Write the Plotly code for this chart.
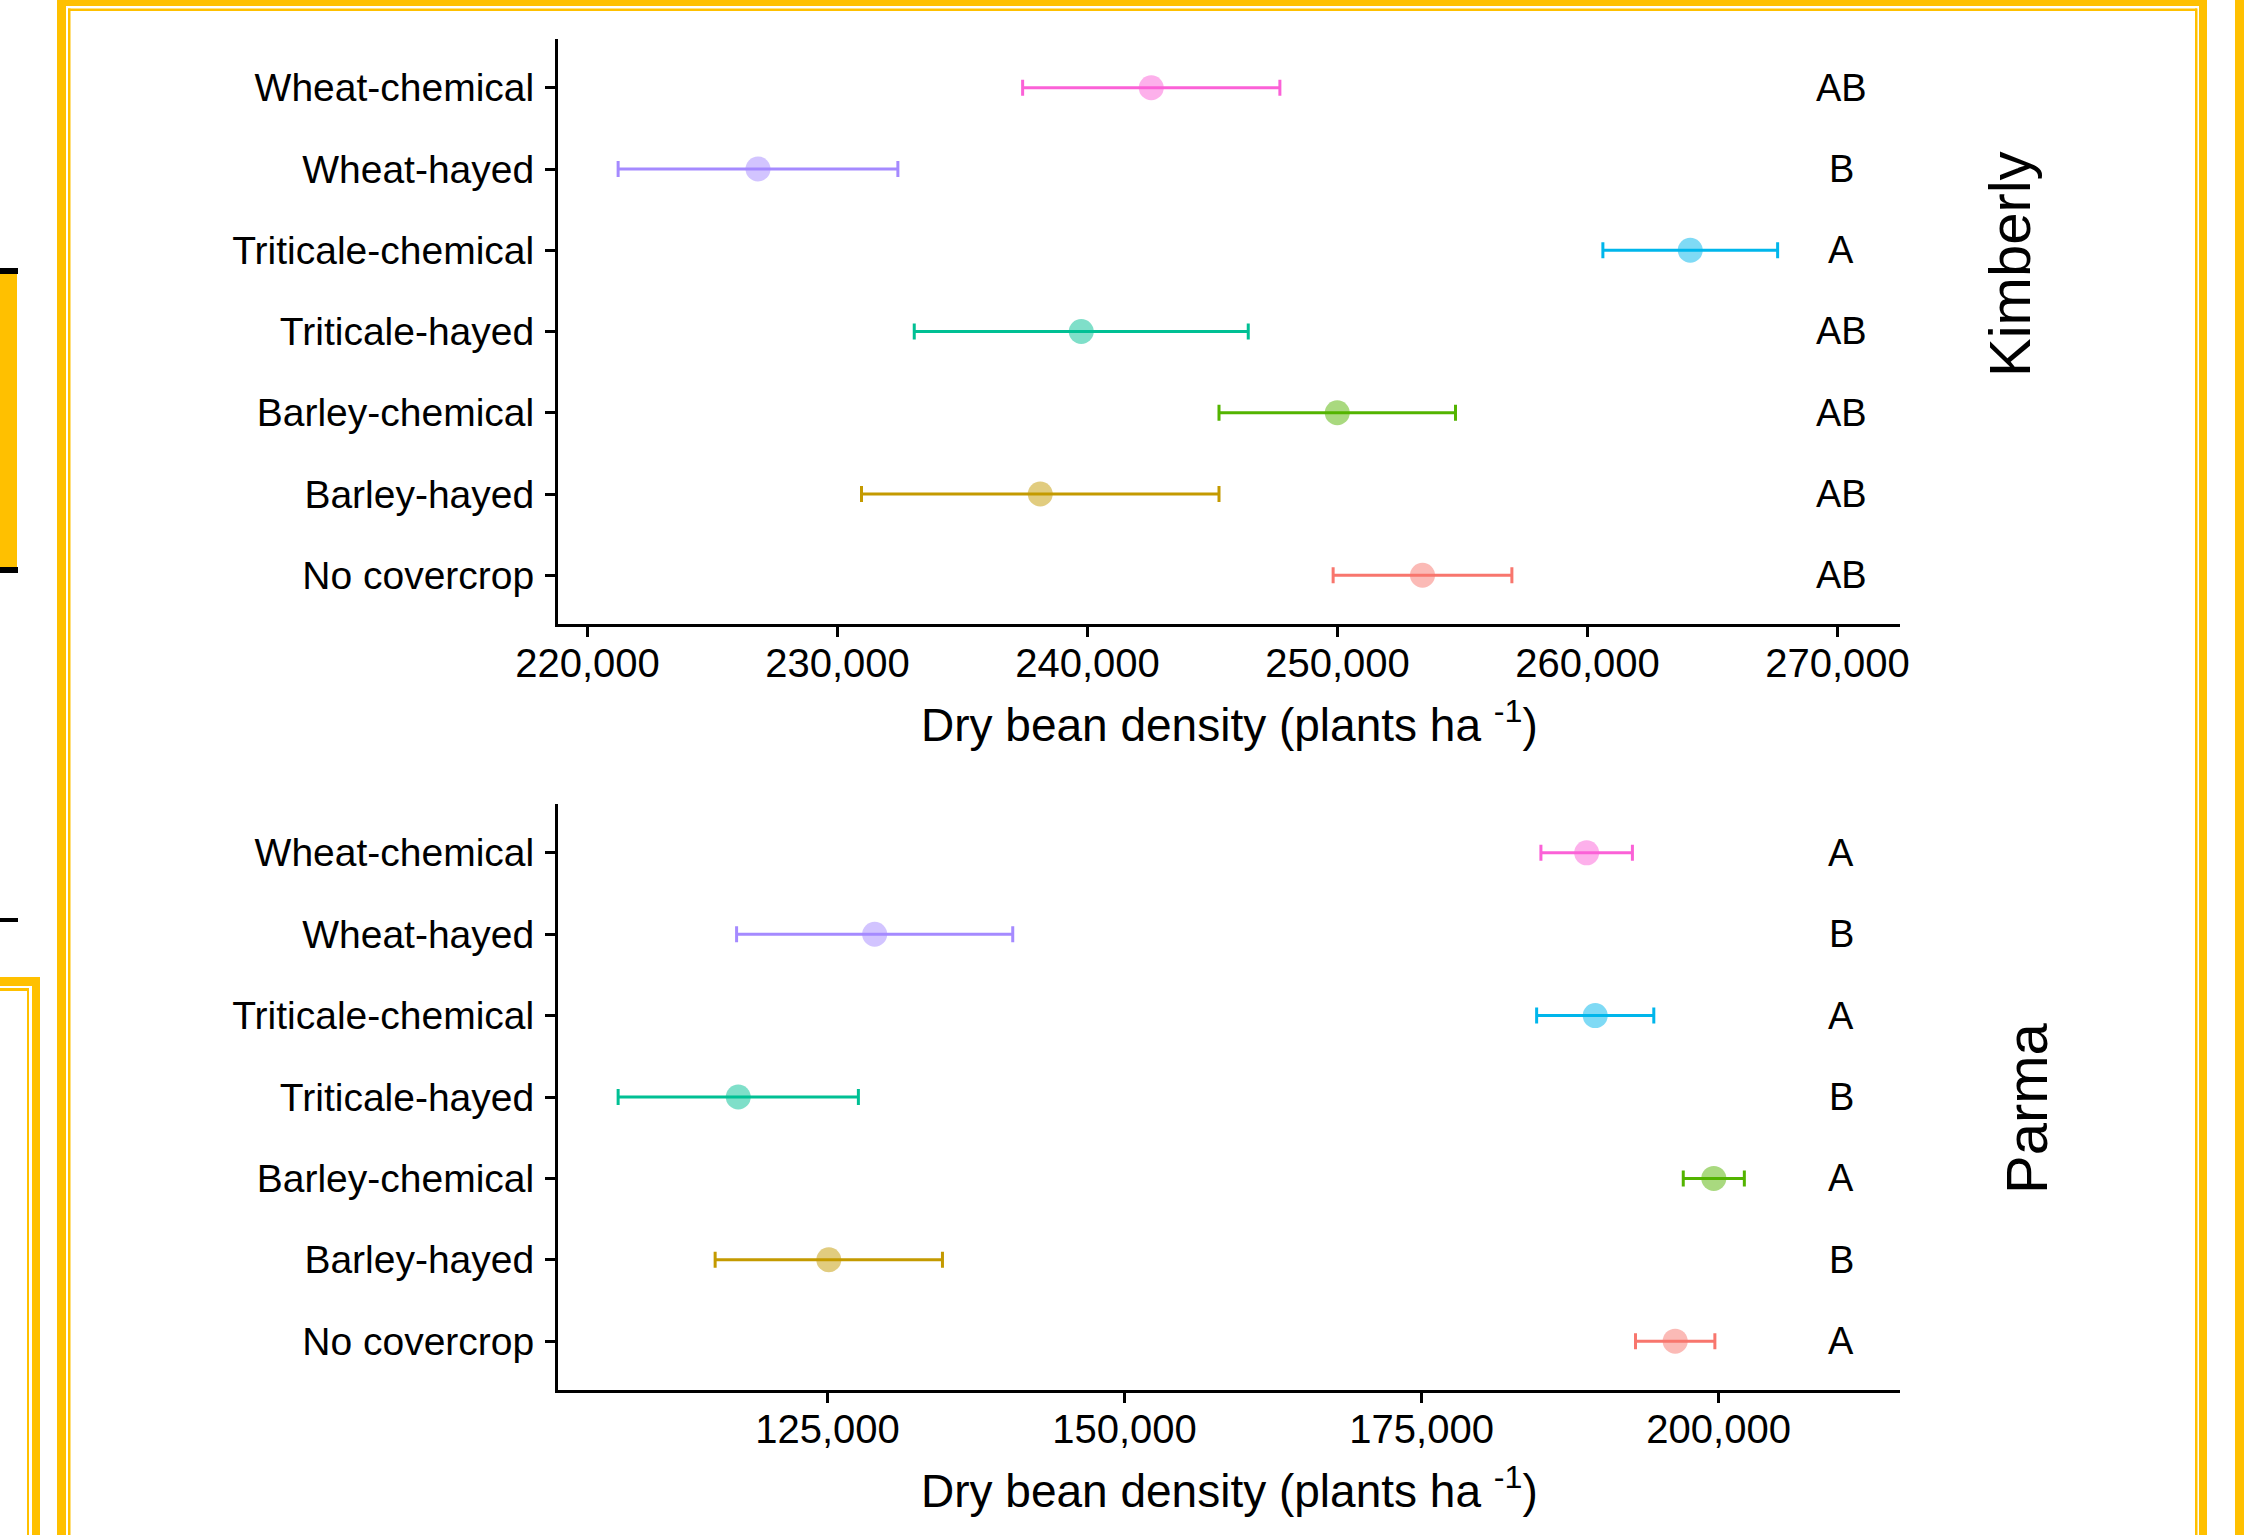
import plotly.graph_objects as go

# ---------------- data ----------------
categories = ["No covercrop", "Barley-hayed", "Barley-chemical", "Triticale-hayed",
              "Triticale-chemical", "Wheat-hayed", "Wheat-chemical"]
colors = ["#F8766D", "#C49A00", "#53B400", "#00C094", "#00B6EB", "#A58AFF", "#FB61D7"]

kim_mean = [253400, 238110, 249990, 239750, 264110, 226820, 242550]
kim_se = [3575, 7150, 4730, 6680, 3495, 5595, 5145]
kim_letters = ["AB", "AB", "AB", "AB", "A", "B", "AB"]

par_mean = [196340, 125110, 199590, 117490, 189610, 128970, 188890]
par_se = [3340, 9565, 2570, 10110, 4930, 11620, 3850]
par_letters = ["A", "B", "A", "B", "A", "B", "A"]

kim_ticks = [220000, 230000, 240000, 250000, 260000, 270000]
par_ticks = [125000, 150000, 175000, 200000]

panel_names = ["Kimberly", "Parma"]
x_title = "Dry bean density (plants ha <sup>-1</sup>)"

# ---------------- layout helpers ----------------
W, H = 2244, 1535
FONT = "Liberation Sans, Arial, Helvetica, sans-serif"
YELLOW = "#FFC000"


def px(x):
    return x / W


def py(y):
    return 1 - y / H


def hex_rgba(h, a):
    h = h.lstrip("#")
    return "rgba(%d,%d,%d,%.2f)" % (int(h[0:2], 16), int(h[2:4], 16), int(h[4:6], 16), a)


fig = go.Figure()
annotations = []

panels = [
    dict(mean=kim_mean, se=kim_se, letters=kim_letters, letter_x=270150, xa="x", ya="y"),
    dict(mean=par_mean, se=par_se, letters=par_letters, letter_x=210300, xa="x2", ya="y2"),
]

for p in panels:
    for i, cat in enumerate(categories):
        fig.add_trace(go.Scatter(
            x=[p["mean"][i]], y=[cat], mode="markers",
            marker=dict(size=25, color=hex_rgba(colors[i], 0.5), line=dict(width=0)),
            error_x=dict(type="data", array=[p["se"][i]], symmetric=True,
                         color=colors[i], thickness=3, width=8),
            xaxis=p["xa"], yaxis=p["ya"], showlegend=False, hoverinfo="skip",
        ))
        annotations.append(dict(
            text=p["letters"][i], x=p["letter_x"], y=cat, xref=p["xa"], yref=p["ya"],
            xanchor="center", yanchor="middle", showarrow=False,
            font=dict(family=FONT, size=38, color="black"),
        ))

xdom = [px(558), px(1900)]
ydom_top = [py(624), py(39)]
ydom_bot = [py(1390), py(804)]

axis_common = dict(showline=True, linecolor="black", linewidth=3, ticks="outside",
                   ticklen=10, tickwidth=2.5, tickcolor="black", showgrid=False,
                   zeroline=False, automargin=False)
xfont = dict(family=FONT, size=40, color="black")
yfont = dict(family=FONT, size=39, color="black")

fig.update_layout(
    width=W, height=H, margin=dict(l=0, r=0, t=0, b=0, autoexpand=False),
    paper_bgcolor="white", plot_bgcolor="white",
    xaxis=dict(domain=xdom, anchor="y", range=[218820, 272500], tickvals=kim_ticks,
               tickformat=",d", tickfont=xfont, ticklabelstandoff=-8, **axis_common),
    yaxis=dict(domain=ydom_top, anchor="x", type="category", categoryorder="array",
               categoryarray=categories, range=[-0.6, 6.6], tickfont=yfont,
               ticklabelstandoff=3, **axis_common),
    xaxis2=dict(domain=xdom, anchor="y2", range=[102320, 215260], tickvals=par_ticks,
                tickformat=",d", tickfont=xfont, ticklabelstandoff=-8, **axis_common),
    yaxis2=dict(domain=ydom_bot, anchor="x2", type="category", categoryorder="array",
                categoryarray=categories, range=[-0.6, 6.6], tickfont=yfont,
                ticklabelstandoff=3, **axis_common),
)

annotations += [
    dict(text=x_title, x=px(1229), y=py(722), xref="paper", yref="paper",
         xanchor="center", yanchor="middle", showarrow=False,
         font=dict(family=FONT, size=46, color="black")),
    dict(text=x_title, x=px(1229), y=py(1488), xref="paper", yref="paper",
         xanchor="center", yanchor="middle", showarrow=False,
         font=dict(family=FONT, size=46, color="black")),
    dict(text=panel_names[0], x=px(2009), y=py(264), xref="paper", yref="paper",
         xanchor="center", yanchor="middle", showarrow=False, textangle=-90,
         font=dict(family=FONT, size=58, color="black")),
    dict(text=panel_names[1], x=px(2026), y=py(1108), xref="paper", yref="paper",
         xanchor="center", yanchor="middle", showarrow=False, textangle=-90,
         font=dict(family=FONT, size=58, color="black")),
]
fig.update_layout(annotations=annotations)

# ---------------- decorative frame (screenshot border) ----------------
shapes = []


def band(x0, y0, x1, y1, color=YELLOW):
    shapes.append(dict(type="rect", xref="paper", yref="paper",
                       x0=px(x0), x1=px(x1), y0=py(y1), y1=py(y0),
                       fillcolor=color, line=dict(width=0), layer="below"))


# main frame: thick outer + thin inner
band(57, 0, 66, H)
band(57, 0, 2207, 6)
band(2199, 0, 2207, H)
band(68, 8.5, 70.5, H)
band(68, 8.5, 2197, 11)
band(2195, 8.5, 2197.5, H)
# neighbour frame at far right
band(2235, 0, W, H)
# left filled box with black bars
band(0, 268, 17, 573)
band(0, 268, 18, 274, "black")
band(0, 567, 18, 573, "black")
band(0, 918, 18, 922, "black")
# lower-left frame
band(0, 977, 40, 986)
band(32, 977, 40, H)
band(0, 988, 29, 991)
band(27, 988, 29, H)

fig.update_layout(shapes=shapes)

fig.write_html("out.html", config={"displayModeBar": False},
               post_script="document.body.style.margin='0px';"
                           "document.body.style.overflow='hidden';")
